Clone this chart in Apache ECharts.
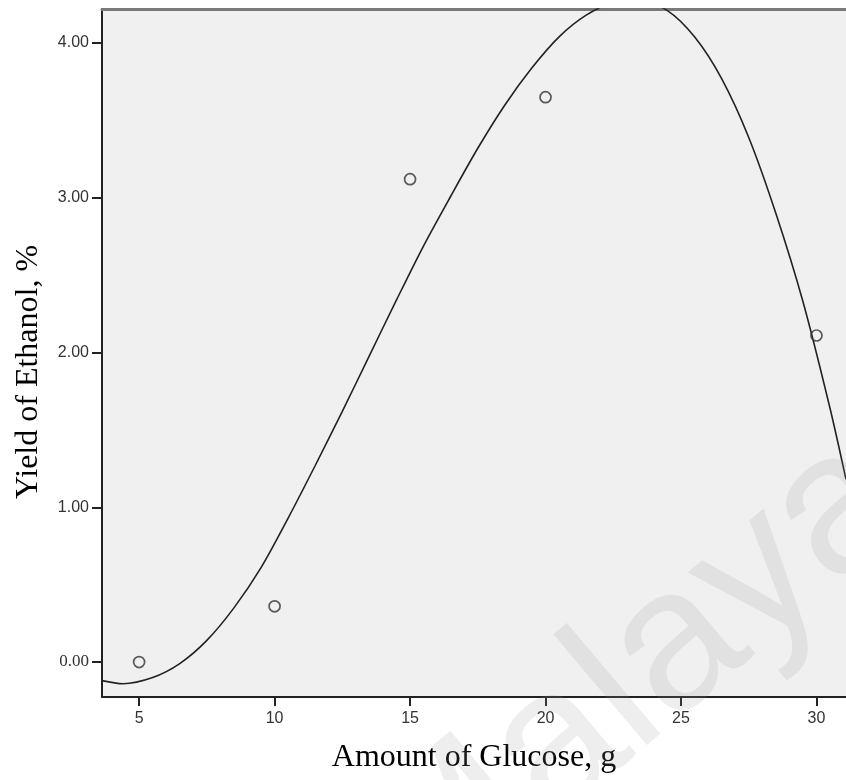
<!DOCTYPE html>
<html>
<head>
<meta charset="utf-8">
<script src="https://cdn.jsdelivr.net/npm/echarts@6/dist/echarts.min.js"></script>
<style>html,body{margin:0;padding:0;background:#fff}#c{width:846px;height:780px}</style>
</head>
<body>
<div id="c"></div>
<script>
// Observed data: amount of glucose (g) vs yield of ethanol (%)
const glucose = [5, 10, 15, 20, 30];
const ethanolYield = [0.00, 0.36, 3.12, 3.65, 2.11];

// Fitted curve (x, y)
const fitX = [3.63, 4.4, 5.5, 6.5, 7.5, 8.5, 9.5, 10.5, 11.5, 12.5, 13.5, 14.5, 15.5, 16.5, 17.5, 18.5, 19.5, 20.5, 21.5, 22.5, 23.5, 24.5, 25.5, 26.5, 27.5, 28.5, 29.5, 30.5, 31.09];
const fitY = [-0.12, -0.14, -0.10, -0.01, 0.14, 0.35, 0.61, 0.93, 1.27, 1.62, 1.98, 2.34, 2.69, 3.01, 3.32, 3.60, 3.84, 4.04, 4.18, 4.26, 4.27, 4.21, 4.04, 3.77, 3.39, 2.90, 2.33, 1.64, 1.18];

const xTicks = [5, 10, 15, 20, 25, 30];
const yTicks = [0, 1, 2, 3, 4];
const xRange = [3.63, 31.09];
const yRange = [-0.226, 4.22];

const chart = echarts.init(document.getElementById('c'), null, {renderer: 'canvas'});

const scatterData = glucose.map((g, i) => [g, ethanolYield[i]]);
const fitData = fitX.map((x, i) => [x, fitY[i]]);

chart.setOption({
  animation: false,
  backgroundColor: '#ffffff',
  grid: {
    left: 102, right: 0, top: 9, bottom: 83,
    show: true, backgroundColor: '#f0f0f0', borderWidth: 0
  },
  xAxis: [{
    type: 'value', min: xRange[0], max: xRange[1],
    axisLine: {show: true, onZero: false, lineStyle: {color: '#222', width: 2}},
    axisTick: {show: true, length: 9, customValues: xTicks, lineStyle: {color: '#222', width: 2}},
    axisLabel: {customValues: xTicks, margin: 14, color: '#333', fontSize: 16, fontFamily: 'Liberation Sans, Arial, sans-serif'},
    splitLine: {show: false}
  }, {
    type: 'value', position: 'top', min: xRange[0], max: xRange[1],
    axisLine: {show: true, onZero: false, lineStyle: {color: '#7a7a7a', width: 3}},
    axisTick: {show: false}, axisLabel: {show: false}, splitLine: {show: false}
  }],
  yAxis: {
    type: 'value', min: yRange[0], max: yRange[1],
    axisLine: {show: true, onZero: false, lineStyle: {color: '#222', width: 2}},
    axisTick: {show: true, length: 10, customValues: yTicks, lineStyle: {color: '#222', width: 2}},
    axisLabel: {
      customValues: yTicks, margin: 13, color: '#333', fontSize: 16,
      fontFamily: 'Liberation Sans, Arial, sans-serif',
      formatter: v => v === 0 ? '{s|0.00}' : v.toFixed(2),
      rich: {s: {fontFamily: 'Liberation Serif, serif', fontSize: 17, color: '#333'}}
    },
    splitLine: {show: false}
  },
  graphic: [
    {
      type: 'text', x: 474, y: 758,
      style: {text: 'Amount of Glucose, g', fontFamily: 'Liberation Serif, serif', fontSize: 32, fill: '#000', align: 'center', verticalAlign: 'middle'}
    },
    {
      type: 'text', x: 29, y: 372, rotation: Math.PI / 2,
      style: {text: 'Yield of Ethanol, %', fontFamily: 'Liberation Serif, serif', fontSize: 32, fill: '#000', align: 'center', verticalAlign: 'middle'}
    },
    {
      type: 'text', x: 635, y: 683, rotation: 0.70, z: 100,
      style: {text: 'Malaya', fontFamily: 'Liberation Sans, Arial, sans-serif', fontSize: 200, fill: 'rgba(150,150,150,0.16)', align: 'center', verticalAlign: 'middle'}
    }
  ],
  series: [{
    type: 'line', data: fitData, smooth: 0.3, showSymbol: false, clip: true,
    lineStyle: {color: '#222', width: 1.6}, z: 3
  }, {
    type: 'scatter', data: scatterData, symbol: 'circle', symbolSize: 11,
    itemStyle: {color: 'rgba(0,0,0,0)', borderColor: '#333', borderWidth: 1.7}, z: 4
  }]
});
</script>
</body>
</html>
